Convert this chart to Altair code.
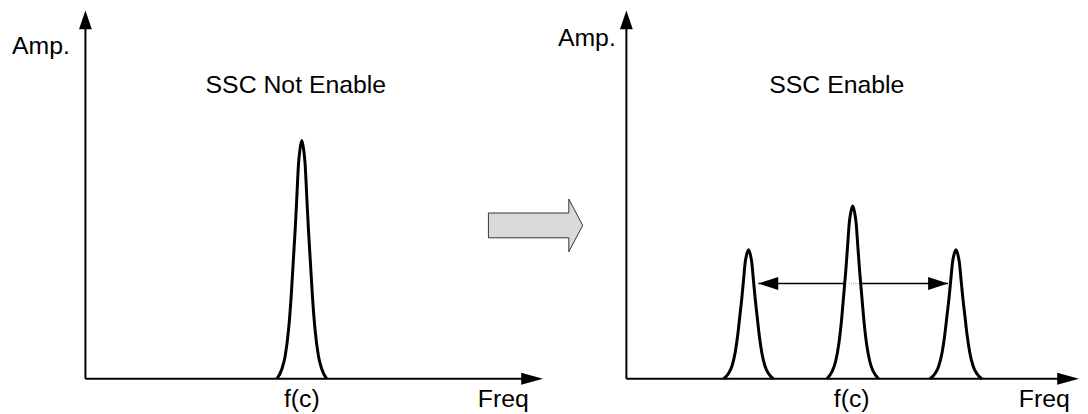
import altair as alt
import pandas as pd

# ---------------- data ----------------
# peak profile (left flank, normalised offset / height), mirrored for right flank
shape_offset = [-1.0, -0.8, -0.668, -0.532, -0.428, -0.348, -0.268, -0.2, -0.132, -0.08, 0.0]
shape_height = [0.0, 0.042, 0.097, 0.208, 0.347, 0.486, 0.625, 0.764, 0.903, 0.958, 1.0]

peak_id = ["L", "R1", "R2", "R3"]
peak_center = [304, 754, 859, 963]
peak_height = [240, 130, 174, 130]
peak_halfwidth = [25, 25, 26, 26]

# axes of the two panels
axis_origin_x = [86, 631]
axis_end_x = [547, 1087]
axis_top_y = [371, 371]

# spread arrow (right panel)
spread_y = [96]
spread_left = [764]
spread_right = [955]

# block arrow between panels
block_x = [492]
block_y = [154.5]

# labels
label_text = ["SSC Not Enable", "SSC Enable", "f(c)", "f(c)", "Freq", "Freq"]
label_x = [298, 843, 304, 858, 507, 1052]
label_y = [288, 288, -28, -28, -28, -28]
amp_text = ["Amp.", "Amp."]
amp_x = [12, 562]
amp_y = [327, 335]

# ---------------- tables ----------------
rows = []
for pid, c, h, hw in zip(peak_id, peak_center, peak_height, peak_halfwidth):
    n = len(shape_offset)
    for i in range(n):
        rows.append({"peak": pid, "o": i, "x": c + shape_offset[i] * hw, "y": h * shape_height[i]})
    for j, i in enumerate(range(n - 2, -1, -1)):
        rows.append({"peak": pid, "o": n + j, "x": c - shape_offset[i] * hw, "y": h * shape_height[i]})
peaks = pd.DataFrame(rows)

UP_LEN = 19
RIGHT_LEN = 22
yaxes = pd.DataFrame({"x": axis_origin_x, "y": [0, 0], "y2": [t - UP_LEN / 2 for t in axis_top_y]})
xaxes = pd.DataFrame({"x": axis_origin_x, "x2": [e - RIGHT_LEN / 2 for e in axis_end_x], "y": [0, 0]})
up_heads = pd.DataFrame({"x": axis_origin_x, "y": axis_top_y})
right_heads = pd.DataFrame({"x": axis_end_x, "y": [0, 0]})
spread = pd.DataFrame({"x": spread_left, "x2": spread_right, "y": spread_y})
spread_l = pd.DataFrame({"x": spread_left, "y": spread_y})
spread_r = pd.DataFrame({"x": spread_right, "y": spread_y})
block = pd.DataFrame({"x": block_x, "y": block_y})
labels = pd.DataFrame({"t": label_text, "x": label_x, "y": label_y})
amps = pd.DataFrame({"t": amp_text, "x": amp_x, "y": amp_y})

XS = alt.Scale(domain=[8, 1088], nice=False, zero=False)
YS = alt.Scale(domain=[-34, 372], nice=False, zero=False)
X = lambda f="x": alt.X(f"{f}:Q", scale=XS, axis=None)
Y = lambda f="y": alt.Y(f"{f}:Q", scale=YS, axis=None)

FONT = "Liberation Sans"

spread_line = alt.Chart(spread).mark_rule(color="black", strokeWidth=1.5).encode(
    x=X(), x2="x2:Q", y=Y())

peak_fill = alt.Chart(peaks).mark_area(color="white", opacity=1).encode(
    x=X(), y=Y(), detail="peak:N", order="o:Q")

ax_y = alt.Chart(yaxes).mark_rule(color="black", strokeWidth=2).encode(x=X(), y=Y(), y2="y2:Q")
ax_x = alt.Chart(xaxes).mark_rule(color="black", strokeWidth=2).encode(x=X(), x2="x2:Q", y=Y())

peak_line = alt.Chart(peaks).mark_line(color="black", strokeWidth=3, interpolate="monotone",
                                       strokeJoin="round").encode(
    x=X(), y=Y(), detail="peak:N", order="o:Q")

up = alt.Chart(up_heads).mark_point(shape="M0,0 L0.68,2 L-0.68,2 Z", size=UP_LEN ** 2,
                                    filled=True, color="black", opacity=1).encode(x=X(), y=Y())
right = alt.Chart(right_heads).mark_point(shape="M0,0 L-2,-0.55 L-2,0.55 Z", size=RIGHT_LEN ** 2,
                                          filled=True, color="black", opacity=1).encode(x=X(), y=Y())
sl = alt.Chart(spread_l).mark_point(shape="M0,0 L2,-0.65 L2,0.65 Z", size=400,
                                    filled=True, color="black", opacity=1).encode(x=X(), y=Y())
sr = alt.Chart(spread_r).mark_point(shape="M0,0 L-2,-0.65 L-2,0.65 Z", size=400,
                                    filled=True, color="black", opacity=1).encode(x=X(), y=Y())

blk = alt.Chart(block).mark_point(
    shape="M0,-12.5 L81,-12.5 L81,-26.5 L95,0 L81,26.5 L81,12.5 L0,12.5 Z",
    size=4, filled=True, fill="#d9d9d9", stroke="#333333", strokeWidth=1,
    opacity=1, fillOpacity=1, strokeOpacity=1).encode(x=X(), y=Y())

txt = alt.Chart(labels).mark_text(font=FONT, fontSize=25, color="black", align="center",
                                  baseline="alphabetic").encode(x=X(), y=Y(), text="t:N")
amp = alt.Chart(amps).mark_text(font=FONT, fontSize=25, color="black", align="left",
                                baseline="alphabetic").encode(x=X(), y=Y(), text="t:N")

chart = alt.layer(spread_line, peak_fill, ax_y, ax_x, peak_line, up, right, sl, sr, blk, txt, amp).properties(
    width=1080, height=406, padding=0, autosize=alt.AutoSizeParams(type="none"), background="white"
).configure_view(stroke=None)

chart.save("out.html", embed_options={"renderer": "svg", "actions": False})
